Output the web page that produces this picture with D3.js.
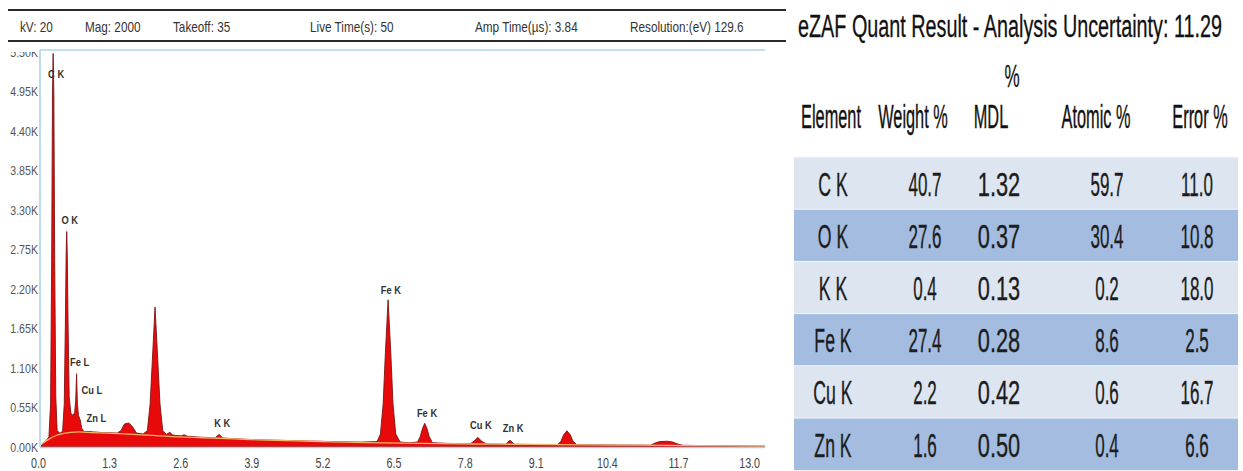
<!DOCTYPE html>
<html>
<head>
<meta charset="utf-8">
<script src="https://cdn.jsdelivr.net/npm/d3@7"></script>
<style>
  html, body { margin: 0; padding: 0; background: #ffffff; }
  svg { display: block; }
  text { font-family: "Liberation Sans", Arial, sans-serif; }
</style>
</head>
<body>
<svg id="chart" width="1243" height="471"></svg>
<script>
// ---- Acquisition settings shown above the spectrum ----
const acquisition = ["kV: 20", "Mag: 2000", "Takeoff: 35", "Live Time(s): 50", "Amp Time(µs): 3.84", "Resolution:(eV) 129.6"];

// ---- EDS spectrum (energy in keV, intensity in counts) ----
const spectrumKeV = [0.00, 0.05, 0.10, 0.15, 0.20, 0.23, 0.25, 0.265, 0.277, 0.29, 0.305, 0.325, 0.35, 0.40, 0.45,
  0.48, 0.50, 0.515, 0.525, 0.535, 0.55, 0.57, 0.60, 0.64, 0.67, 0.69, 0.705, 0.72, 0.74, 0.77, 0.80, 0.84, 0.93,
  1.01, 1.20, 1.45, 1.52, 1.58, 1.66, 1.73, 1.80, 1.92, 2.00, 2.05, 2.09, 2.14, 2.19, 2.23, 2.28, 2.35, 2.41, 2.46,
  2.52, 2.62, 2.67, 2.73, 3.00, 3.24, 3.31, 3.38, 3.60, 4.00, 4.50, 5.00, 5.50, 5.90, 6.20, 6.26, 6.31, 6.35, 6.40,
  6.45, 6.49, 6.54, 6.62, 6.80, 6.94, 6.99, 7.03, 7.07, 7.11, 7.15, 7.21, 7.50, 7.90, 7.97, 8.04, 8.11, 8.20, 8.55,
  8.63, 8.71, 9.00, 9.50, 9.56, 9.61, 9.67, 9.73, 9.78, 9.85, 10.50, 11.20, 11.28, 11.36, 11.50, 11.60, 11.70, 11.80,
  12.40, 13.00, 13.30];
const spectrumCounts = [0, 20, 55, 90, 140, 600, 2600, 4900, 5480, 4900, 2600, 700, 230, 190, 220,
  600, 1700, 2700, 3000, 2700, 1700, 700, 470, 440, 480, 650, 1020, 600, 440, 380, 260, 215, 215,
  210, 200, 195, 230, 320, 335, 280, 195, 180, 230, 600, 1200, 1950, 1200, 600, 230, 175, 205, 168,
  160, 155, 170, 150, 135, 130, 175, 125, 115, 100, 92, 82, 74, 68, 75, 180, 600, 1300, 2050,
  1300, 600, 180, 70, 58, 70, 150, 260, 330, 260, 150, 60, 50, 45, 80, 135, 80, 42, 38,
  95, 38, 35, 33, 80, 170, 225, 170, 80, 32, 28, 25, 55, 75, 80, 70, 40, 23,
  18, 14, 12];

// ---- Fitted continuum (background) ----
const backgroundKeV = [0, 0.1, 0.2, 0.3, 0.45, 0.6, 0.75, 1.0, 1.5, 2.0, 2.6, 3.2, 4.0, 5.0, 6.0, 7.0, 8.0, 9.0, 10.0, 11.0, 12.0, 13.3];
const backgroundCounts = [0, 60, 110, 150, 185, 205, 210, 200, 185, 165, 140, 125, 100, 80, 60, 50, 42, 36, 30, 25, 20, 12];

// ---- Identified lines ----
const lineNames = ["C K", "O K", "Fe L", "Cu L", "Zn L", "K K", "Fe K", "Fe K", "Cu K", "Zn K"];
const lineKeV = [0.277, 0.525, 0.705, 0.930, 1.012, 3.312, 6.398, 7.057, 8.040, 8.630];

// ---- Axis ticks ----
const xTicks = [0.0, 1.3, 2.6, 3.9, 5.2, 6.5, 7.8, 9.1, 10.4, 11.7, 13.0];
const yTicks = [0, 550, 1100, 1650, 2200, 2750, 3300, 3850, 4400, 4950, 5500];

// ---- eZAF quantification table ----
const quantTitle = "eZAF Quant Result - Analysis Uncertainty: 11.29";
const quantTitleTail = "%";
const columns = ["Element", "Weight %", "MDL", "Atomic %", "Error %"];
const elements = ["C K", "O K", "K K", "Fe K", "Cu K", "Zn K"];
const weightPct = [40.7, 27.6, 0.4, 27.4, 2.2, 1.6];
const mdl = [1.32, 0.37, 0.13, 0.28, 0.42, 0.50];
const atomicPct = [59.7, 30.4, 0.2, 8.6, 0.6, 0.4];
const errorPct = [11.0, 10.8, 18.0, 2.5, 16.7, 6.6];

// ================= drawing =================
const svg = d3.select("#chart");

// narrow a text horizontally around its own anchor point
function squeeze(sel, k) {
  sel.each(function (d, i) {
    const t = d3.select(this);
    const kk = typeof k === "function" ? k.call(this, d, i) : k;
    const px = +t.attr("x") || 0, py = +t.attr("y") || 0;
    t.attr("x", 0).attr("y", 0)
      .attr("transform", `translate(${px},${py}) scale(${kk},1)`);
  });
}

// --- acquisition header strip ---
const headerX = [20, 85, 173, 310, 475, 630];
svg.append("line").attr("x1", 8).attr("x2", 786).attr("y1", 10).attr("y2", 10)
  .attr("stroke", "#2a2a2a").attr("stroke-width", 2);
svg.append("line").attr("x1", 8).attr("x2", 786).attr("y1", 41).attr("y2", 41)
  .attr("stroke", "#2a2a2a").attr("stroke-width", 2);
svg.append("g").selectAll("text").data(acquisition).join("text")
  .attr("x", (d, i) => headerX[i]).attr("y", 32)
  .attr("font-size", 14).attr("fill", "#333")
  .text(d => d)
  .call(squeeze, 0.84);

// --- spectrum plot ---
const plot = { left: 40, right: 765, top: 50, bottom: 447 };
const x = d3.scaleLinear().domain([0, 13.3]).range([38, 38 + 13.3 * 54.7]);
const y = d3.scaleLinear().domain([0, 5500]).range([plot.bottom, 52]);

const defs = svg.append("defs");
defs.append("clipPath").attr("id", "plotClip")
  .append("rect").attr("x", plot.left).attr("y", plot.top)
  .attr("width", plot.right - plot.left).attr("height", plot.bottom - plot.top);
defs.append("clipPath").attr("id", "yLabelClip")
  .append("rect").attr("x", 0).attr("y", 52).attr("width", plot.left).attr("height", 430);

const spectrum = spectrumKeV.map((e, i) => ({ e, c: spectrumCounts[i] }));
const background = backgroundKeV.map((e, i) => ({ e, c: backgroundCounts[i] }));

const g = svg.append("g").attr("clip-path", "url(#plotClip)");
g.append("path").datum(spectrum)
  .attr("d", d3.area().x(d => x(d.e)).y0(y(0)).y1(d => y(d.c)))
  .attr("fill", "#e80a0a").attr("stroke", "#7e1414").attr("stroke-width", 0.9)
  .attr("stroke-linejoin", "round");
g.append("path").datum(background)
  .attr("d", d3.line().x(d => x(d.e)).y(d => y(d.c)).curve(d3.curveMonotoneX))
  .attr("fill", "none").attr("stroke", "#f3b36a").attr("stroke-width", 1.3);

// frame
svg.append("line").attr("x1", plot.left).attr("x2", plot.right).attr("y1", plot.top).attr("y2", plot.top)
  .attr("stroke", "#c3dfec").attr("stroke-width", 2);
svg.append("line").attr("x1", plot.left).attr("x2", plot.left).attr("y1", plot.top).attr("y2", plot.bottom)
  .attr("stroke", "#b9dbea").attr("stroke-width", 2);
svg.append("line").attr("x1", plot.left).attr("x2", plot.right).attr("y1", plot.bottom + 0.5).attr("y2", plot.bottom + 0.5)
  .attr("stroke", "#a6d3e2").attr("stroke-width", 1.5);

// y axis (clipped so the top label is cut by the frame edge)
const yAxis = svg.append("g").attr("clip-path", "url(#yLabelClip)")
  .append("g").attr("transform", "translate(38,0)")
  .call(d3.axisLeft(y).tickValues(yTicks).tickSize(0).tickPadding(0)
    .tickFormat(v => (v / 1000).toFixed(2) + "K"));
yAxis.select(".domain").remove();
yAxis.selectAll("text").attr("font-size", 12.5).attr("fill", "#555")
  .attr("font-family", "Liberation Sans, Arial, sans-serif")
  .attr("transform", "scale(0.85,1)");

// x axis
const xAxis = svg.append("g").attr("transform", `translate(0,${plot.bottom})`)
  .call(d3.axisBottom(x).tickValues(xTicks).tickSize(0).tickPadding(11)
    .tickFormat(v => v.toFixed(1)));
xAxis.select(".domain").remove();
xAxis.selectAll("text").attr("font-size", 14.5).attr("fill", "#444")
  .attr("font-family", "Liberation Sans, Arial, sans-serif")
  .attr("transform", "scale(0.74,1)");

// line labels: placed above the spectrum at each line energy
const countAt = e => {
  const i = d3.bisector(d => d.e).left(spectrum, e);
  if (i <= 0) return spectrum[0].c;
  if (i >= spectrum.length) return spectrum[spectrum.length - 1].c;
  const a = spectrum[i - 1], b = spectrum[i];
  return a.c + (b.c - a.c) * (e - a.e) / (b.e - a.e);
};
const stackUnder = { "Cu L": "Fe L", "Zn L": "Cu L" };
const labelY = {};
const labels = lineNames.map((n, i) => {
  let yy = Math.max(y(countAt(lineKeV[i])) - 8, plot.top + 28);
  if (stackUnder[n]) yy = labelY[stackUnder[n]] + 28;
  labelY[n] = yy;
  return { n, x: x(lineKeV[i]) + 3, y: yy };
});
svg.append("g").selectAll("text").data(labels).join("text")
  .attr("x", d => d.x).attr("y", d => d.y).attr("text-anchor", "middle")
  .attr("font-size", 11).attr("font-weight", "bold").attr("fill", "#333")
  .text(d => d.n).call(squeeze, 0.85);

// --- quantification table ---
const tbl = { left: 794, right: 1238, top: 157, rowH: 52.2 };
const colX = [833, 925, 999, 1107, 1197];
const colK = [0.52, 0.5, 0.64, 0.5, 0.5];

const title = svg.append("text").attr("x", 1010).attr("y", 37).attr("text-anchor", "middle")
  .attr("font-size", 31).attr("fill", "#111").attr("stroke", "#111").attr("stroke-width", 0.3)
  .text(quantTitle);
const titleW = title.node().getComputedTextLength();
title.call(squeeze, 424 / titleW);
svg.append("text").attr("x", 1012).attr("y", 87).attr("text-anchor", "middle")
  .attr("font-size", 31).attr("fill", "#111").attr("stroke", "#111").attr("stroke-width", 0.3)
  .text(quantTitleTail).call(squeeze, 0.55);

const headerCX = [831, 913, 991, 1096, 1200];
svg.append("g").selectAll("text").data(columns).join("text")
  .attr("x", (d, i) => headerCX[i]).attr("y", 128).attr("text-anchor", "middle")
  .attr("font-size", 34).attr("fill", "#111").attr("stroke", "#111").attr("stroke-width", 0.4)
  .text(d => d)
  .call(squeeze, 0.48);

const rows = elements.map((el, i) => [el, weightPct[i].toFixed(1), mdl[i].toFixed(2), atomicPct[i].toFixed(1), errorPct[i].toFixed(1)]);
const rowG = svg.append("g").selectAll("g").data(rows).join("g")
  .attr("transform", (d, i) => `translate(0,${tbl.top + i * tbl.rowH})`);
rowG.append("rect").attr("x", tbl.left).attr("width", tbl.right - tbl.left).attr("height", tbl.rowH)
  .attr("fill", (d, i) => i % 2 === 0 ? "#dde5f1" : "#a3bcdf");
rowG.append("line").attr("x1", tbl.left).attr("x2", tbl.right).attr("y1", 0).attr("y2", 0)
  .attr("stroke", "#f4f7fb").attr("stroke-width", 1);
rowG.selectAll("text").data(d => d).join("text")
  .attr("x", (d, j) => colX[j]).attr("y", tbl.rowH / 2 + 12.5).attr("text-anchor", "middle")
  .attr("font-size", 34).attr("fill", "#1c1c1c").attr("stroke", "#1c1c1c").attr("stroke-width", 0.35)
  .text(d => d)
  .call(squeeze, (d, j) => colK[j]);
</script>
</body>
</html>
